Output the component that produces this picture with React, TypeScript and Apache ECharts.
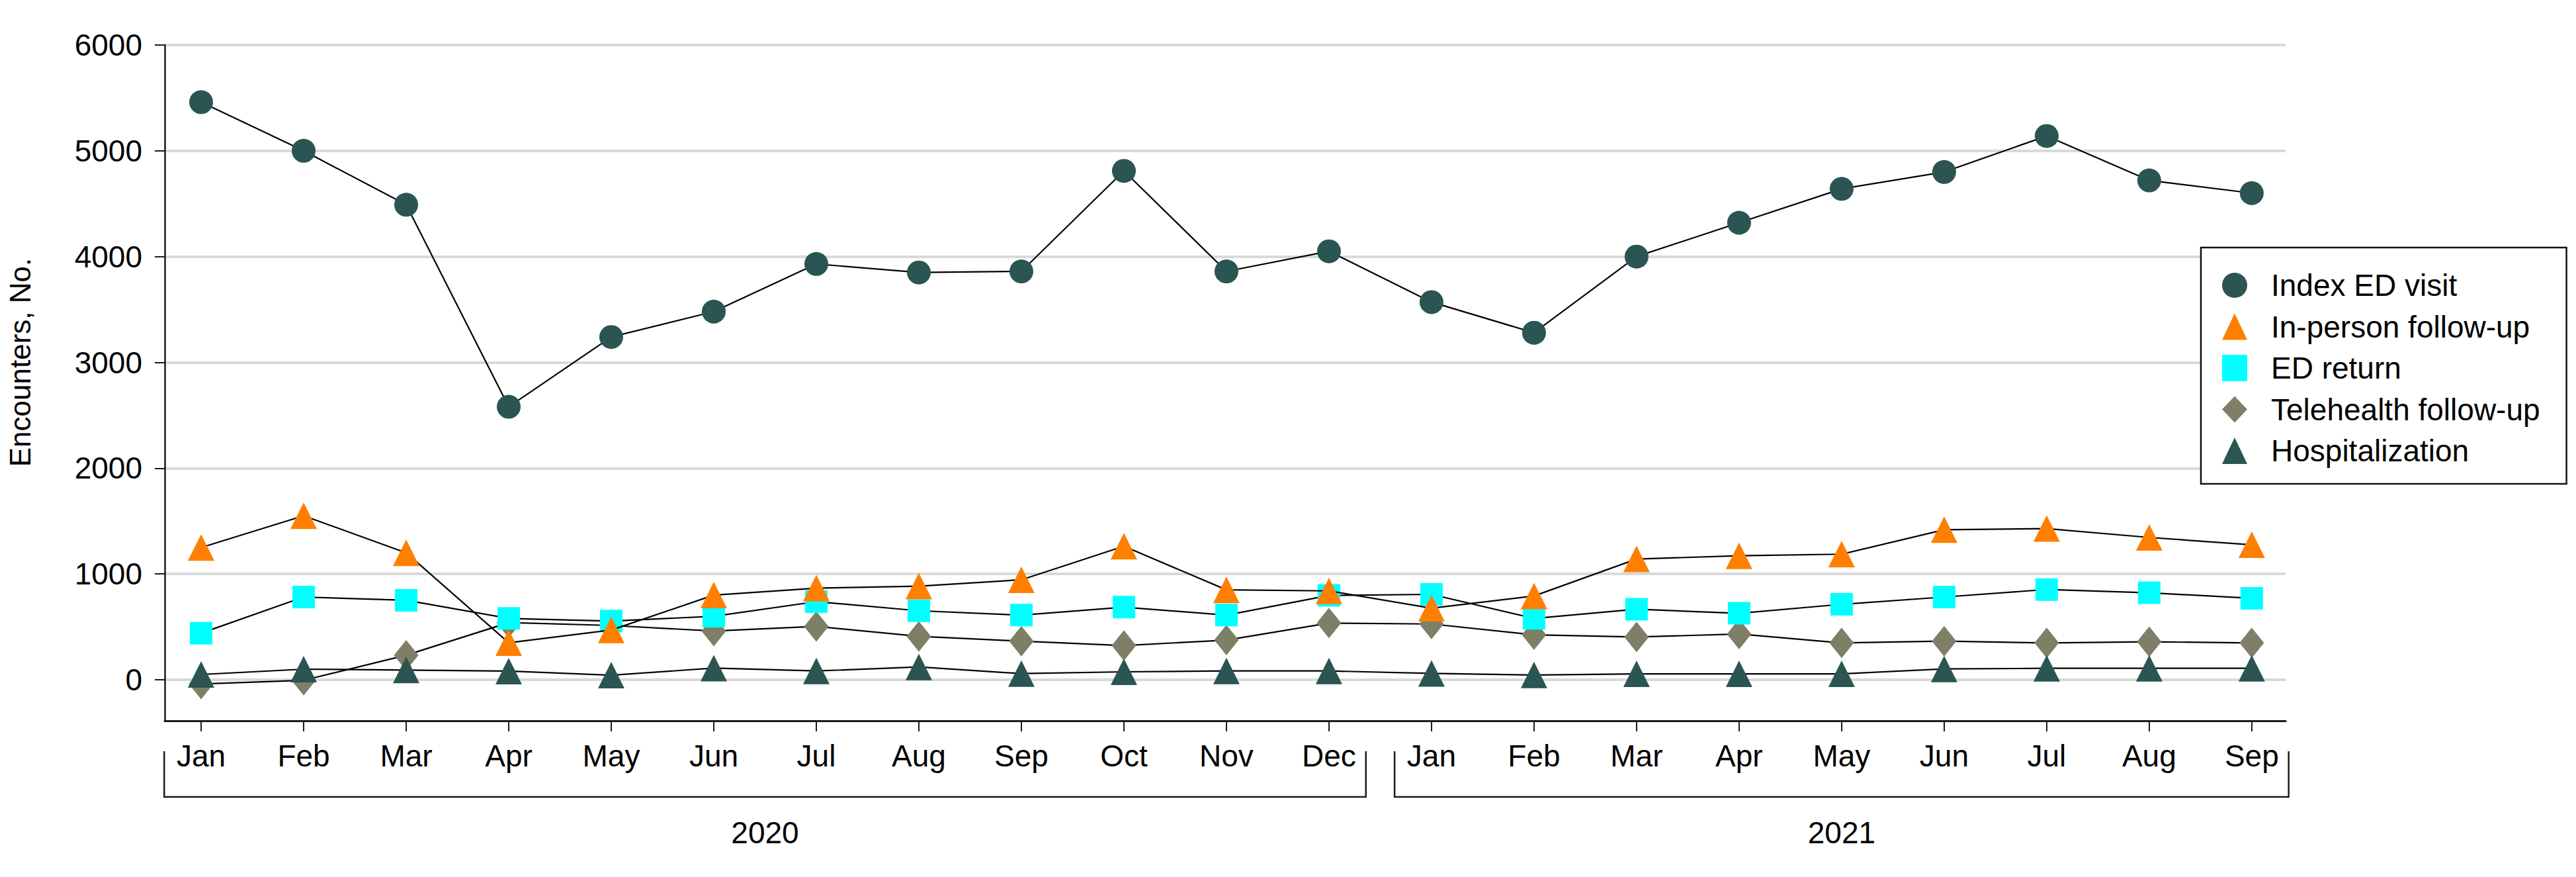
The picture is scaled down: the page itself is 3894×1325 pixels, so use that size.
import React, { useEffect, useRef } from 'react';
import * as echarts from 'echarts';

// ---------- data ----------
const months = ['Jan', 'Feb', 'Mar', 'Apr', 'May', 'Jun', 'Jul', 'Aug', 'Sep', 'Oct', 'Nov', 'Dec',
  'Jan', 'Feb', 'Mar', 'Apr', 'May', 'Jun', 'Jul', 'Aug', 'Sep'];
const indexED = [5460, 5000, 4490, 2580, 3240, 3480, 3930, 3850, 3860, 4810, 3860, 4050,
  3570, 3280, 4000, 4320, 4640, 4800, 5140, 4720, 4600];
const inPerson = [1250, 1550, 1200, 350, 470, 800, 866, 885, 945, 1262, 850, 840,
  676, 792, 1141, 1172, 1187, 1418, 1429, 1345, 1276];
const edReturn = [440, 782, 751, 580, 555, 600, 738, 652, 611, 686, 611, 797,
  807, 580, 667, 628, 713, 782, 853, 822, 770];
const telehealth = [-40, -5, 232, 540, 513, 460, 504, 410, 365, 323, 375, 536,
  527, 425, 404, 432, 348, 365, 348, 359, 348];
const hospitalization = [50, 100, 92, 82, 43, 110, 83, 121, 58, 75, 83, 83,
  60, 45, 56, 56, 56, 102, 108, 108, 108];
const yearGroups = [
  { label: '2020', first: 0, last: 11 },
  { label: '2021', first: 12, last: 20 },
];
const yMaxTick = 6000;
const yTickStep = 1000;

// ---------- styling / layout ----------
const FONT = '"Liberation Sans", Arial, Helvetica, sans-serif';
const X_MIN = -0.355;
const X_MAX = 20.33;
const Y_MIN = -388;
const GRID_LEFT = 249;
const GRID_RIGHT = 439;
const GRID_TOP = 68;
const TEAL = '#2A5552';

const monthIdx = months.map((_, i) => i);
const toPairs = (arr: number[]) => arr.map((v, i) => [i, v]);

export default function App() {
  const ref = useRef<HTMLDivElement>(null);

  useEffect(() => {
    if (!ref.current) return;
    const chart = echarts.init(ref.current, null, { renderer: 'svg' });

    const lineStyle = { color: '#000', width: 2.2 };
    const mk = (name: string, data: number[], symbol: string, size: any, color: string, z: number) => ({
      name,
      type: 'line',
      xAxisIndex: 0,
      yAxisIndex: 0,
      data: toPairs(data),
      symbol,
      symbolSize: size,
      showSymbol: true,
      clip: false,
      z,
      itemStyle: { color, borderWidth: 0 },
      lineStyle,
      emphasis: { disabled: true },
    });

    const option: any = {
      animation: false,
      backgroundColor: '#ffffff',
      grid: [
        { left: GRID_LEFT, right: GRID_RIGHT, top: GRID_TOP, bottom: 236 },
        { left: GRID_LEFT, right: GRID_RIGHT, top: GRID_TOP, bottom: 298 },
      ],
      xAxis: [
        {
          type: 'value',
          gridIndex: 0,
          min: X_MIN,
          max: X_MAX,
          axisLine: { show: true, onZero: false, lineStyle: { color: '#1a1a1a', width: 3 } },
          axisTick: {
            show: true,
            inside: false,
            length: 16,
            customValues: monthIdx,
            lineStyle: { color: '#1a1a1a', width: 2 },
          },
          axisLabel: {
            show: true,
            customValues: monthIdx,
            formatter: (v: number) => months[Math.round(v)] ?? '',
            margin: 30,
            fontSize: 46,
            lineHeight: 46,
            color: '#000',
            fontFamily: FONT,
          },
          splitLine: { show: false },
        },
        { type: 'value', gridIndex: 1, min: X_MIN, max: X_MAX, show: false },
      ],
      yAxis: [
        {
          type: 'value',
          gridIndex: 0,
          min: Y_MIN,
          max: yMaxTick,
          axisLine: { show: true, onZero: false, lineStyle: { color: '#1a1a1a', width: 2.5 } },
          axisTick: { show: false },
          axisLabel: { show: false },
          splitLine: { show: false },
        },
        {
          type: 'value',
          gridIndex: 1,
          min: 0,
          max: yMaxTick,
          interval: yTickStep,
          name: 'Encounters, No.',
          nameLocation: 'middle',
          nameRotate: 90,
          nameGap: 198,
          nameTextStyle: { fontSize: 44, fontFamily: FONT, color: '#000' },
          axisLine: { show: false, onZero: false },
          axisTick: { show: true, inside: false, length: 16, lineStyle: { color: '#1a1a1a', width: 2 } },
          axisLabel: {
            margin: 35,
            fontSize: 46,
            color: '#000',
            fontFamily: FONT,
            formatter: (v: number) => String(v),
          },
          splitLine: { show: true, lineStyle: { color: '#D9D9D9', width: 4 } },
        },
      ],
      legend: {
        orient: 'vertical',
        left: 3327,
        top: 374,
        padding: [34, 40, 27, 32],
        itemGap: 16.5,
        itemWidth: 38,
        itemHeight: 40,
        backgroundColor: '#ffffff',
        borderColor: '#111',
        borderWidth: 2.5,
        borderRadius: 0,
        selectedMode: false,
        itemStyle: { borderWidth: 0 },
        textStyle: { fontSize: 46, lineHeight: 46, fontFamily: FONT, color: '#000', padding: [0, 0, 0, 31] },
        data: [
          { name: 'Index ED visit', icon: 'circle' },
          { name: 'In-person follow-up', icon: 'triangle' },
          { name: 'ED return', icon: 'rect' },
          { name: 'Telehealth follow-up', icon: 'diamond' },
          { name: 'Hospitalization', icon: 'triangle' },
        ],
      },
      series: [
        mk('Telehealth follow-up', telehealth, 'diamond', [37, 46], '#7F7F68', 2),
        mk('Hospitalization', hospitalization, 'triangle', [40, 40], TEAL, 3),
        mk('ED return', edReturn, 'rect', [34, 34], '#00FFFF', 4),
        mk('In-person follow-up', inPerson, 'triangle', [40, 40], '#FF7F00', 5),
        mk('Index ED visit', indexED, 'circle', 36, TEAL, 6),
      ],
    };

    chart.setOption(option);

    const px = (v: number) => chart.convertToPixel({ xAxisIndex: 0 } as any, v) as number;
    const PAD = 0.36;
    const graphic: any[] = [];
    yearGroups.forEach((g) => {
      const x1 = px(g.first - PAD);
      const x2 = px(g.last + PAD);
      graphic.push({
        type: 'polyline',
        shape: { points: [[x1, 1135], [x1, 1204], [x2, 1204], [x2, 1135]] },
        style: { stroke: '#1a1a1a', lineWidth: 2.5, fill: 'none' },
        silent: true,
      });
      graphic.push({
        type: 'text',
        x: px((g.first + g.last) / 2),
        y: 1258,
        silent: true,
        style: {
          text: g.label,
          fontSize: 46,
          fontFamily: FONT,
          fill: '#000',
          align: 'center',
          verticalAlign: 'middle',
        },
      });
    });
    chart.setOption({ graphic });

    return () => chart.dispose();
  }, []);

  return (
    <div
      ref={ref}
      style={{ position: 'fixed', left: 0, top: 0, width: 3894, height: 1325, background: '#fff' }}
    />
  );
}
